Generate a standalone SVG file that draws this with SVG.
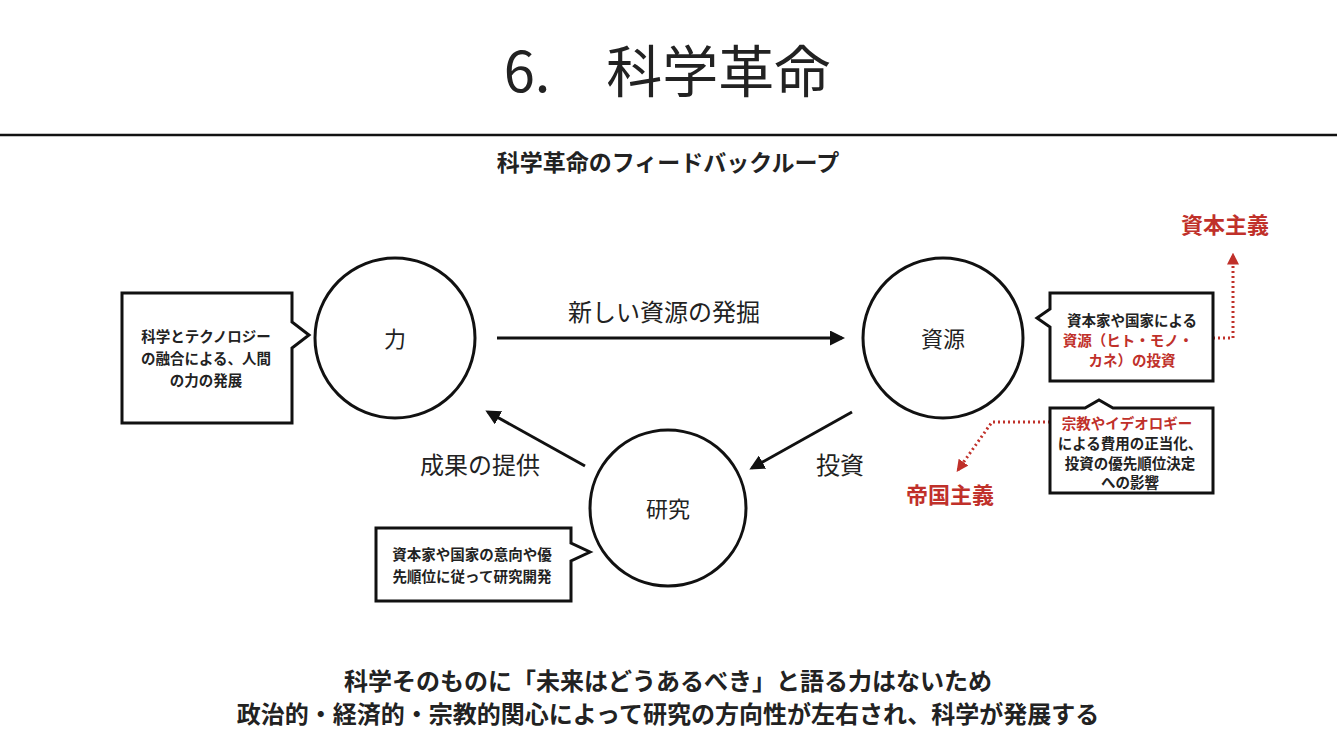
<svg xmlns="http://www.w3.org/2000/svg" width="1337" height="751" viewBox="0 0 1337 751">
<style>
text{font-family:"Noto Sans CJK JP","Noto Sans",sans-serif;fill:#222;text-anchor:middle}
.b{font-weight:bold}
.r{fill:#c0302a}
.c{fill:#fff;stroke:#111;stroke-width:3}
.box{fill:#fff;stroke:#111;stroke-width:3}
.a{stroke:#111;stroke-width:3;fill:none}
.d{stroke:#c0302a;stroke-width:3;stroke-dasharray:2 3;fill:none}
.s{font-size:14.5px;font-weight:bold}
</style>
<defs>
<marker id="ah" viewBox="0 0 10 10" refX="8" refY="5" markerWidth="5" markerHeight="5" orient="auto"><path d="M0,0L10,5L0,10z" fill="#111"/></marker>
<marker id="rh" viewBox="0 0 10 10" refX="8" refY="5" markerWidth="4" markerHeight="4" orient="auto"><path d="M0,0L10,5L0,10z" fill="#c0302a"/></marker>
</defs>
<rect width="1337" height="751" fill="#fff"/>
<text x="667" y="92" font-size="56">6.　科学革命</text>
<line x1="0" y1="135" x2="1337" y2="135" stroke="#111" stroke-width="2.5"/>
<text x="668" y="171" font-size="23" class="b">科学革命のフィードバックループ</text>
<g id="connectors">
<line class="a" x1="497" y1="338" x2="842" y2="338" marker-end="url(#ah)"/>
<line class="a" x1="852" y1="412" x2="752" y2="468" marker-end="url(#ah)"/>
<line class="a" x1="585" y1="466" x2="488" y2="412" marker-end="url(#ah)"/>
<polyline class="d" points="1168,338 1233,338 1233,255" marker-end="url(#rh)"/>
<polyline class="d" points="1050,422 992,422 958,470" marker-end="url(#rh)"/>
<text x="664" y="321" font-size="24">新しい資源の発掘</text>
<text x="840" y="474" font-size="24">投資</text>
<text x="480" y="474" font-size="24">成果の提供</text>
</g>
<g id="power"><circle class="c" cx="395" cy="338" r="80"/><text x="395" y="347" font-size="22">力</text></g>
<g id="resource"><circle class="c" cx="943" cy="338" r="80"/><text x="943" y="347" font-size="22">資源</text></g>
<g id="research"><circle class="c" cx="668" cy="508" r="78"/><text x="668" y="517" font-size="22">研究</text></g>
<g id="note-power">
<path class="box" d="M122,293H292V322L309,335L292,348V423H122Z"/>
<text class="s" x="206" y="342">科学とテクノロジー</text>
<text class="s" x="206" y="364">の融合による、人間</text>
<text class="s" x="206" y="386">の力の発展</text>
</g>
<g id="note-research">
<path class="box" d="M376,528H571V543L590,552L571,561V601H376Z"/>
<text class="s" x="472" y="560">資本家や国家の意向や優</text>
<text class="s" x="472" y="582">先順位に従って研究開発</text>
</g>
<g id="note-resource">
<path class="box" d="M1050,293H1213V381H1050V327L1037,318L1050,309Z"/>
<text class="s" x="1132" y="326">資本家や国家による</text>
<text class="s r" x="1128" y="346">資源（ヒト・モノ・</text>
<text class="s r" x="1132" y="366">カネ）の投資</text>
</g>
<g id="note-ideology">
<path class="box" d="M1050,408H1085L1099,400L1113,408H1213V493H1050Z"/>
<text class="s r" x="1127" y="429">宗教やイデオロギー</text>
<text class="s" x="1130" y="449">による費用の正当化、</text>
<text class="s" x="1130" y="469">投資の優先順位決定</text>
<text class="s" x="1130" y="488">への影響</text>
</g>
<g id="capitalism"><text class="b r" x="1225" y="233" font-size="22">資本主義</text></g>
<g id="imperialism"><text class="b r" x="950" y="503" font-size="22">帝国主義</text></g>
<text x="668" y="690" font-size="24" class="b">科学そのものに「未来はどうあるべき」と語る力はないため</text>
<text x="668" y="723" font-size="24" class="b">政治的・経済的・宗教的関心によって研究の方向性が左右され、科学が発展する</text>
</svg>
